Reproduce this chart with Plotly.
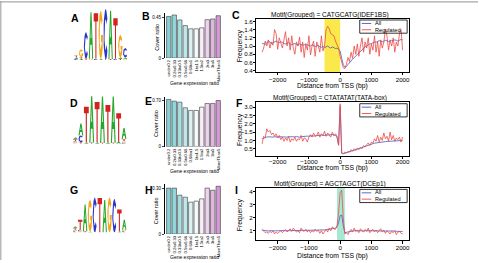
import numpy as np
import plotly.graph_objects as go

W, H = 479, 263

# ------------------------------------------------------------------ data
tss_x = list(range(-2500, 2001, 50))

c_all = [1.07, 1.05, 1.04, 1.08, 1.12, 1.10, 1.06, 1.08, 1.10, 1.12, 1.10,
         1.08, 1.10, 1.09, 1.06, 1.05, 1.07, 1.08, 1.05, 1.03, 1.05, 1.06, 1.04, 1.02, 1.05, 1.04, 1.02, 1.03, 1.05, 1.03, 1.02,
         1.00, 1.03, 1.01, 0.99, 1.00, 1.02, 0.98, 0.97, 0.99, 0.96, 0.98, 1.00, 0.97, 0.95, 0.98, 0.96, 0.94, 0.95, 0.92, 0.88,
         0.70, 0.55, 0.48, 0.50, 0.55, 0.60, 0.64, 0.68, 0.72, 0.76, 0.80, 0.84, 0.88, 0.92, 0.95, 0.98, 1.00, 1.03, 1.05, 1.06,
         1.08, 1.10, 1.09, 1.11, 1.13, 1.12, 1.10, 1.12, 1.14, 1.13, 1.11, 1.12, 1.14, 1.13, 1.15, 1.14, 1.12, 1.14, 1.16, 1.15]
c_reg = [0.85, 0.95, 1.12, 1.00, 1.15, 0.95, 1.10, 1.02, 1.40, 1.30, 0.92, 1.20, 1.08, 0.95, 1.15, 1.35, 1.00, 1.20, 0.90, 1.25,
         0.95, 0.80, 1.10, 1.00, 1.22, 0.85, 1.10, 0.72, 1.05, 0.90, 1.25, 0.78, 1.00, 1.12, 0.75, 1.10, 1.00, 0.85, 1.25, 0.88,
         1.00, 1.40, 1.48, 1.42, 1.30, 1.28, 1.25, 1.12, 1.05, 0.95, 0.75,
         0.60, 0.47, 0.45, 0.55, 0.72, 0.62, 0.85, 0.70, 1.00, 0.80, 1.05, 0.75, 1.00, 1.20, 0.85, 1.10, 0.95, 1.20, 0.80, 1.05,
         0.90, 1.25, 0.85, 1.10, 0.75, 1.15, 0.95, 1.10, 1.40, 1.25, 0.90, 1.15, 1.00, 1.20, 0.85, 1.10, 1.00, 1.30, 1.40, 0.90]

f_all = [1.10, 1.15, 1.18, 1.20, 1.22, 1.20, 1.18, 1.20, 1.22, 1.20, 1.21,
         1.20, 1.22, 1.21, 1.20, 1.19, 1.20, 1.22, 1.21, 1.20, 1.20, 1.22, 1.23, 1.21, 1.20, 1.22, 1.24, 1.23, 1.25, 1.26, 1.25,
         1.27, 1.28, 1.26, 1.28, 1.30, 1.29, 1.30, 1.32, 1.30, 1.31, 1.33, 1.32, 1.34, 1.33, 1.35, 1.32, 1.30, 1.20, 0.75, 3.05,
         0.22, 0.20, 0.23, 0.25, 0.27, 0.30, 0.32, 0.35, 0.38, 0.42, 0.45, 0.50, 0.53, 0.57, 0.60, 0.64, 0.68, 0.72, 0.76, 0.80,
         0.82, 0.84, 0.85, 0.87, 0.88, 0.90, 0.90, 0.92, 0.93, 0.94, 0.95, 0.95, 0.96, 0.97, 0.98, 0.98, 0.99, 1.00, 1.00, 1.00]
f_reg = [0.80, 1.25, 1.15, 1.70, 1.50, 1.60, 1.35, 1.45, 1.25, 1.40, 1.15,
         1.30, 1.05, 1.20, 0.95, 1.15, 1.00, 1.25, 0.90, 1.10, 1.00, 1.20, 0.95, 1.10, 1.05, 1.30, 0.95, 1.15, 1.10, 0.90, 1.20,
         1.35, 1.20, 1.45, 1.25, 1.30, 1.50, 1.20, 1.40, 1.30, 1.55, 1.25, 1.45, 1.35, 1.20, 1.50, 1.30, 1.40, 1.25, 0.70, 3.20,
         0.25, 0.22, 0.30, 0.25, 0.35, 0.30, 0.45, 0.35, 0.50, 0.40, 0.55, 0.45, 0.60, 0.50, 0.70, 0.60, 0.75, 0.85, 0.70, 0.90,
         0.85, 1.10, 0.95, 1.30, 0.90, 1.20, 1.00, 1.45, 1.10, 1.25, 0.95, 1.50, 1.05, 1.30, 0.95, 1.15, 1.05, 1.20, 0.90, 1.20]

i_all = [1.05, 1.02, 1.00, 1.00, 0.98, 1.00, 1.02, 1.00, 0.99, 1.00, 1.01,
         1.00, 1.00, 1.02, 1.01, 1.00, 1.00, 1.03, 1.02, 1.01, 1.00, 1.02, 1.03, 1.02, 1.01, 1.00, 1.02, 1.03, 1.04, 1.02, 1.03,
         1.04, 1.03, 1.05, 1.04, 1.03, 1.05, 1.06, 1.05, 1.07, 1.06, 1.08, 1.10, 1.09, 1.12, 1.15, 1.18, 1.20, 1.30, 1.60, 2.15,
         2.20, 1.40, 0.85, 0.88, 0.92, 0.95, 0.97, 0.98, 1.00, 0.99, 1.00, 1.01, 1.00, 1.00, 0.99, 1.00, 1.01, 1.00, 1.00, 0.99,
         1.00, 1.00, 0.99, 1.00, 0.98, 0.99, 1.00, 0.98, 0.97, 0.98, 0.99, 0.97, 0.96, 0.97, 0.98, 0.96, 0.95, 0.96, 0.95, 0.94]
i_reg = [1.10, 0.95, 0.85, 0.90, 0.80, 0.95, 0.85, 1.00, 0.75, 0.90, 0.80,
         0.90, 1.00, 0.85, 0.95, 1.10, 0.90, 1.05, 1.15, 0.95, 1.20, 1.05, 0.90, 1.00, 0.85, 1.20, 1.00, 0.95, 1.10, 0.90, 1.05,
         0.85, 1.00, 0.90, 1.10, 0.95, 1.05, 0.80, 1.00, 0.75, 0.95, 1.10, 0.90, 1.20, 1.00, 1.30, 1.15, 1.10, 1.40, 2.40, 3.90,
         4.10, 2.00, 0.75, 0.85, 0.70, 0.95, 1.10, 0.90, 1.20, 0.95, 1.05, 0.85, 1.15, 1.00, 0.90, 1.10, 0.95, 1.20, 0.85, 1.00,
         1.10, 0.90, 1.05, 0.85, 1.00, 1.15, 0.90, 1.05, 0.80, 1.00, 0.90, 0.75, 0.95, 0.85, 1.00, 0.70, 0.90, 0.95, 0.80, 0.75]

line_titles = ["Motif(Grouped) = CATGCATG(IDEF1BS)",
               "Motif(Grouped) = CTATATAT(TATA-box)",
               "Motif(Grouped) = AGCTAGCT(DCEp1)"]
legend_names = ["All", "Regulated"]
c_highlight = (-500, 0)
i_highlight = (-100, 150)

ratio_bins = ["under0.2", "0.2to0.33", "0.33to0.5", "0.5to0.66", "0.66to1",
              "1to1.5", "1.5to2", "2to3", "3to5", "MoreThan5"]
b_cover = [0.464, 0.480, 0.425, 0.362, 0.326, 0.326, 0.337, 0.428, 0.436, 0.472]
e_cover = [0.716, 0.690, 0.675, 0.590, 0.550, 0.550, 0.600, 0.655, 0.655, 0.700]
h_cover = [0.304, 0.304, 0.257, 0.244, 0.211, 0.218, 0.233, 0.304, 0.290, 0.316]

# sequence logos: per position, letters stacked bottom->top with height in bits
logo_a = [[("C", 0.05), ("A", 0.06), ("T", 0.07)],
          [("A", 0.05), ("T", 0.06), ("G", 0.30)],
          [("T", 0.05), ("C", 1.02)],
          [("G", 0.05), ("A", 1.78)],
          [("C", 0.05), ("T", 1.74)],
          [("A", 0.04), ("G", 1.85)],
          [("C", 1.95)],
          [("T", 0.04), ("A", 1.85)],
          [("C", 0.05), ("T", 1.55)],
          [("T", 0.05), ("A", 0.06), ("G", 0.85)],
          [("G", 0.05), ("A", 0.05), ("C", 0.36)]]
logo_d = [[("G", 0.05), ("C", 0.06), ("T", 0.07), ("A", 0.08)],
          [("T", 0.06), ("C", 0.28), ("A", 0.48)],
          [("A", 0.06), ("T", 1.44)],
          [("T", 0.05), ("A", 1.88)],
          [("A", 0.06), ("T", 1.64)],
          [("T", 0.04), ("A", 1.88)],
          [("A", 0.06), ("T", 1.52)],
          [("T", 0.04), ("A", 1.88)],
          [("A", 0.08), ("T", 1.16)],
          [("C", 0.05), ("G", 0.05), ("T", 0.10), ("A", 0.44)]]
logo_g = [[("C", 0.05), ("G", 0.06), ("T", 0.06), ("A", 0.07)],
          [("G", 0.05), ("C", 0.06), ("T", 0.40)],
          [("T", 0.05), ("A", 1.08)],
          [("A", 0.04), ("G", 1.28)],
          [("C", 1.42)],
          [("T", 1.40)],
          [("A", 1.32)],
          [("G", 1.42)],
          [("C", 1.36)],
          [("A", 0.05), ("T", 0.88)],
          [("C", 0.05), ("G", 0.06), ("A", 0.40)]]

# ------------------------------------------------------------------ style
FONT = "Liberation Sans, Arial, sans-serif"
BLUE = "#4659c4"
RED = "#ee4a44"
LETTER_COL = {"A": "#22a82a", "C": "#2b35c8", "G": "#f2a516", "T": "#d3221f"}
BAR_COLS = ["#86d0d4", "#92d6d9", "#a9dfe2", "#c0e8ea", "#dcf2f3",
            "#f4fbfb", "#f7eef7", "#eed3ee", "#e1b7e2", "#d399d5"]


def px_x(a, b):
    return [a / W, b / W]


def px_y(top, bottom):
    return [1 - bottom / H, 1 - top / H]


# ------------------------------------------------------------------ glyphs
def arc(rx, ry, a0, a1, n):
    t = np.radians(np.linspace(a0, a1, n))
    return list(zip(0.5 + rx * np.cos(t), 0.5 + ry * np.sin(t)))


GLYPH = {
    "T": [(0, 1), (1, 1), (1, 0.82), (0.62, 0.82), (0.62, 0), (0.38, 0), (0.38, 0.82), (0, 0.82)],
    "A": [(0, 0), (0.38, 1), (0.62, 1), (1, 0), (0.76, 0), (0.66, 0.3), (0.34, 0.3), (0.24, 0)],
    "C": arc(0.5, 0.5, 40, 320, 25) + arc(0.27, 0.3, 320, 40, 25),
    "G": arc(0.5, 0.5, 40, 360, 26) + [(0.55, 0.5), (0.55, 0.36)] + arc(0.27, 0.3, 330, 40, 24),
}
A_HOLE = [(0.41, 0.45), (0.5, 0.76), (0.59, 0.45)]

fig = go.Figure()


def add_logo(logo, ax):
    polys = {k: ([], []) for k in "ACGT"}
    holes = ([], [])
    for p, stack in enumerate(logo):
        base = 0.0
        for letter, h in stack:
            xs, ys = polys[letter]
            for u, v in GLYPH[letter]:
                xs.append(p - 0.45 + 0.9 * u)
                ys.append(base + h * v)
            xs.append(None)
            ys.append(None)
            if letter == "A" and h > 0.3:
                for u, v in A_HOLE:
                    holes[0].append(p - 0.45 + 0.9 * u)
                    holes[1].append(base + h * v)
                holes[0].append(None)
                holes[1].append(None)
            base += h
    for k in "ACGT":
        xs, ys = polys[k]
        if xs:
            fig.add_trace(go.Scatter(x=xs, y=ys, mode="lines", fill="toself", fillcolor=LETTER_COL[k],
                                     line=dict(width=0), hoverinfo="skip", showlegend=False,
                                     xaxis="x" + ax, yaxis="y" + ax))
    if holes[0]:
        fig.add_trace(go.Scatter(x=holes[0], y=holes[1], mode="lines", fill="toself", fillcolor="white",
                                 line=dict(width=0), hoverinfo="skip", showlegend=False,
                                 xaxis="x" + ax, yaxis="y" + ax))


layout = dict(width=W, height=H, margin=dict(l=0, r=0, t=0, b=0),
              paper_bgcolor="white", plot_bgcolor="rgba(0,0,0,0)",
              font=dict(family=FONT, color="black", size=6),
              showlegend=False)
annotations = []
shapes = []

# ------------------------------------------------------------------ line panels
line_panels = [
    ("", c_all, c_reg, 18, 72, [0.37, 1.665], [0.4, 0.6, 0.8, 1.0, 1.2, 1.4, 1.6], c_highlight, "#fbe84a", 14.5, 86),
    ("2", f_all, f_reg, 103, 157, [0.09, 3.28], [0.5, 1.0, 1.5, 2.0, 2.5, 3.0], None, None, 99, 170),
    ("3", i_all, i_reg, 190, 243, [0.27, 4.25], [1, 2, 3, 4], i_highlight, "#a6e8d2", 186, 259),
]
for k, (ax, y_all, y_reg, top, bot, yr, yt, hl, hlc, ty, xly) in enumerate(line_panels):
    xa = "xaxis" + ax
    ya = "yaxis" + ax
    xr = "x" + ax
    yr_ = "y" + ax
    layout[xa] = dict(domain=px_x(257, 410), range=[-2680, 2210], anchor=yr_,
                      tickvals=[-2000, -1000, 0, 1000, 2000],
                      ticktext=["\u22122000", "\u22121000", "0", "1000", "2000"],
                      showline=True, mirror=True, linecolor="black", linewidth=0.8,
                      ticks="outside", ticklen=2.5, tickwidth=0.7, tickcolor="black",
                      ticklabelstandoff=-2 if k == 1 else -1,
                      tickfont=dict(size=6.2), showgrid=False, zeroline=False)
    layout[ya] = dict(domain=px_y(top, bot), range=yr, anchor=xr,
                      tickvals=yt, ticktext=[f"{v:.1f}" if k < 2 else f"{v:d}" for v in yt],
                      showline=True, mirror=True, linecolor="black", linewidth=0.8,
                      ticks="outside", ticklen=2.5, tickwidth=0.7, tickcolor="black",
                      ticklabelstandoff=-1,
                      tickfont=dict(size=6.2), showgrid=False, zeroline=False)
    if hl is not None:
        shapes.append(dict(type="rect", xref=xr, yref=yr_ + " domain", x0=hl[0], x1=hl[1], y0=0, y1=1,
                           fillcolor=hlc, line=dict(width=0), layer="below"))
    fig.add_trace(go.Scatter(x=tss_x, y=y_all, mode="lines", line=dict(color=BLUE, width=0.8),
                             name=legend_names[0], showlegend=False, xaxis=xr, yaxis=yr_))
    fig.add_trace(go.Scatter(x=tss_x, y=y_reg, mode="lines", line=dict(color=RED, width=0.8),
                             name=legend_names[1], showlegend=False, xaxis=xr, yaxis=yr_))
    # title, axis titles
    annotations.append(dict(text=line_titles[k], x=331 / W, y=1 - ty / H, xref="paper", yref="paper",
                            showarrow=False, font=dict(size=6.5), xanchor="center", yanchor="middle"))
    annotations.append(dict(text="Distance from TSS (bp)", x=333 / W, y=1 - xly / H, xref="paper", yref="paper",
                            showarrow=False, font=dict(size=6.8), xanchor="center", yanchor="middle"))
    annotations.append(dict(text="Frequency", x=240.5 / W, y=1 - (top + bot) / 2 / H, xref="paper", yref="paper",
                            showarrow=False, font=dict(size=6.8), textangle=-90, xanchor="center", yanchor="middle"))
    # manual legend (box, two short line keys, one two-line text)
    shapes.append(dict(type="rect", xref="paper", yref="paper", x0=360.5 / W, x1=408 / W,
                       y0=1 - (top + 14.7) / H, y1=1 - (top + 1.3) / H, line=dict(color="black", width=0.8)))
    shapes.append(dict(type="line", xref="paper", yref="paper", x0=362.5 / W, x1=372 / W,
                       y0=1 - (top + 4.8) / H, y1=1 - (top + 4.8) / H, line=dict(color=BLUE, width=0.9)))
    shapes.append(dict(type="line", xref="paper", yref="paper", x0=362.5 / W, x1=372 / W,
                       y0=1 - (top + 11.2) / H, y1=1 - (top + 11.2) / H, line=dict(color=RED, width=0.9)))
    annotations.append(dict(text="<br>".join(legend_names), x=373.5 / W, y=1 - (top + 7.9) / H,
                            xref="paper", yref="paper", align="left",
                            showarrow=False, font=dict(size=5.6), xanchor="left", yanchor="middle"))

# ------------------------------------------------------------------ bar panels
bar_panels = [
    ("4", b_cover, 12.4, 58, [0, 0.5], 0.45, "0.45", 83),
    ("5", e_cover, 97.7, 148, [0, 0.75], 0.70, "0.70", 172.3),
    ("6", h_cover, 186, 236.7, [0, 0.33], 0.30, "0.30", 259.5),
]
for ax, vals, top, bot, yr, tmax, ttxt, xly in bar_panels:
    xr = "x" + ax
    yr_ = "y" + ax
    layout["xaxis" + ax] = dict(domain=px_x(165, 222), range=[-0.75, 9.6], anchor=yr_,
                                showline=False, ticks="", tickangle=-90, tickfont=dict(size=4.2),
                                showgrid=False, zeroline=False, type="category")
    layout["yaxis" + ax] = dict(domain=px_y(top, bot), range=yr, anchor=xr,
                                tickvals=[0, tmax], ticktext=["0", ttxt],
                                showline=True, linecolor="black", linewidth=0.6,
                                ticks="outside", ticklen=2, tickwidth=0.6, tickfont=dict(size=4.5),
                                showgrid=False, zeroline=False)
    fig.add_trace(go.Bar(x=ratio_bins, y=vals, marker=dict(color=BAR_COLS, line=dict(color="#3a3a3a", width=0.6)),
                         width=0.8, showlegend=False, hoverinfo="skip", xaxis=xr, yaxis=yr_))
    annotations.append(dict(text="Gene expression ratio", x=195 / W, y=1 - xly / H, xref="paper", yref="paper",
                            showarrow=False, font=dict(size=5), xanchor="center", yanchor="middle"))
    annotations.append(dict(text="Cover ratio", x=156.5 / W, y=1 - (top + 4 + bot) / 2 / H, xref="paper",
                            yref="paper", showarrow=False, font=dict(size=5.5), textangle=-90,
                            xanchor="center", yanchor="middle"))

# ------------------------------------------------------------------ logos
logo_panels = [("7", logo_a, 74, 128, 7, 60), ("8", logo_d, 73, 127, 95, 145), ("9", logo_g, 73, 127, 185, 235)]
for ax, logo, x0, x1, top, bot in logo_panels:
    layout["xaxis" + ax] = dict(domain=px_x(x0, x1), range=[-0.5, len(logo) - 0.5], visible=False,
                                anchor="y" + ax)
    layout["yaxis" + ax] = dict(domain=px_y(top, bot), range=[0, 2], visible=False, anchor="x" + ax)
    add_logo(logo, ax)

# ------------------------------------------------------------------ panel letters
for lab, x, y in [("A", 75, 17), ("B", 146.5, 15), ("C", 236, 14.5),
                  ("D", 74.5, 103.5), ("E", 149, 102), ("F", 239.5, 103.5),
                  ("G", 74.5, 191.5), ("H", 149.5, 191.5), ("I", 237, 191.5)]:
    annotations.append(dict(text=f"<b>{lab}</b>", x=x / W, y=1 - y / H, xref="paper", yref="paper",
                            showarrow=False, font=dict(size=10.5, family="Liberation Sans, Arial"),
                            xanchor="center", yanchor="middle"))

# frame lines (top and left)
shapes.append(dict(type="line", xref="paper", yref="paper", x0=0, x1=1, y0=1 - 0.8 / H, y1=1 - 0.8 / H,
                   line=dict(color="#a8a8a8", width=1.2)))
shapes.append(dict(type="line", xref="paper", yref="paper", x0=0.8 / W, x1=0.8 / W, y0=0, y1=1,
                   line=dict(color="#a8a8a8", width=1.2)))

layout["annotations"] = annotations
layout["shapes"] = shapes
fig.update_layout(**layout)
fig.write_html("out.html")
